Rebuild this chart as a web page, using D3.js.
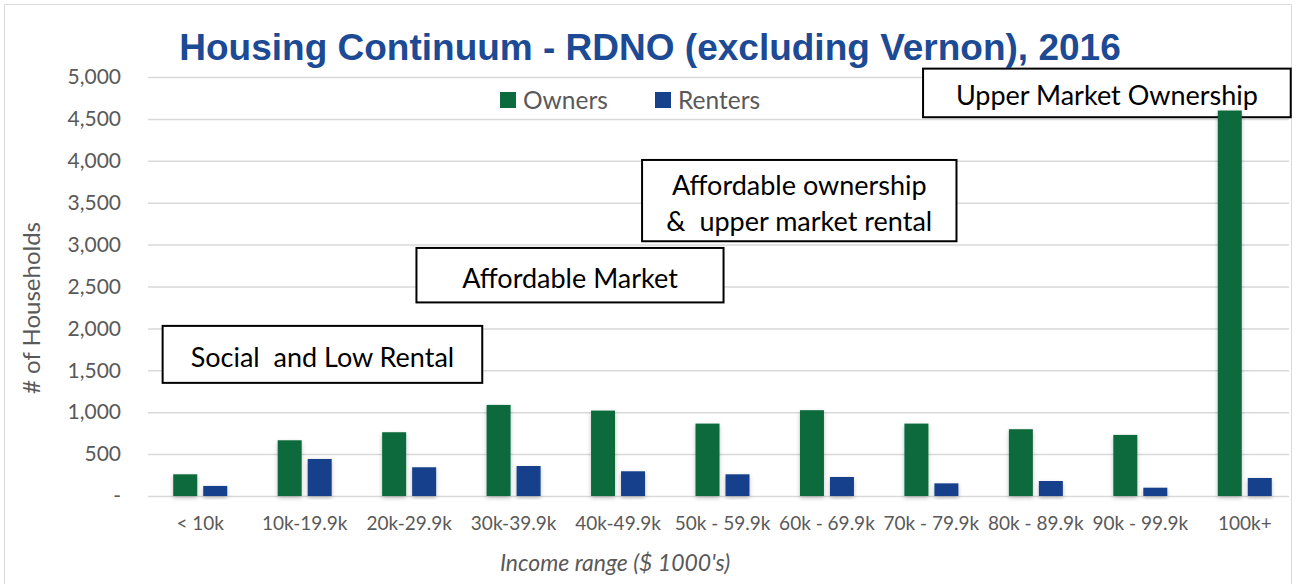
<!DOCTYPE html>
<html>
<head>
<meta charset="utf-8">
<script src="https://cdn.jsdelivr.net/npm/d3@7"></script>
<style>
	body { margin: 0; background: #fff; }
	svg { display: block; }
</style>
</head>
<body>
<script>
'use strict';

// Chart values
const categories = ["< 10k", "10k-19.9k", "20k-29.9k", "30k-39.9k", "40k-49.9k",
	"50k - 59.9k", "60k - 69.9k", "70k - 79.9k", "80k - 89.9k", "90k - 99.9k", "100k+"];
const owners = [259, 665, 761, 1087, 1019, 864, 1024, 864, 797, 729, 4600];
const renters = [120, 442, 343, 358, 295, 259, 227, 151, 179, 99, 215];
const seriesNames = ["Owners", "Renters"];
const yTicks = [0, 500, 1000, 1500, 2000, 2500, 3000, 3500, 4000, 4500, 5000];

// Text boxes laid over the plot: category index range, value range, lines
const notes = [
	{ from: -0.36, to: 2.70, top: 2030, bottom: 1350, lines: ["Social  and Low Rental"] },
	{ from: 2.07, to: 5.01, top: 2960, bottom: 2310, lines: ["Affordable Market"] },
	{ from: 4.23, to: 7.24, top: 4010, bottom: 3040, lines: ["Affordable ownership", "&  upper market rental"] },
	{ from: 6.92, to: 10.44, top: 5100, bottom: 4520, lines: ["Upper Market Ownership"] }
];

const params = {
	width: 1296,
	height: 584,
	left: 148,
	right: 1297,
	top: 77,
	bottom: 496
};

const colors = { Owners: "#0b6b3c", Renters: "#17418b" };
const font = "Lato, 'Open Sans', sans-serif";
const grey = "#595959";

const svg = d3.select("body").append("svg")
	.attr("width", params.width)
	.attr("height", params.height);

// outer chart border
svg.append("rect")
	.attr("x", 4.5).attr("y", 4.5)
	.attr("width", params.width - 9).attr("height", params.height - 2)
	.attr("fill", "#fff")
	.attr("stroke", "#d9d9d9");

const xScale = d3.scaleBand()
	.domain(categories)
	.range([params.left, params.right]);

// fractional category position -> pixel (for the note boxes)
const xPos = i => params.left + (i + 0.5) * xScale.bandwidth();

const yScale = d3.scaleLinear()
	.domain([0, 5000])
	.range([params.bottom, params.top]);

// gridlines + y labels
const yAxis = svg.append("g")
	.attr("transform", `translate(${params.left},0)`)
	.call(d3.axisLeft(yScale)
		.tickValues(yTicks)
		.tickSize(-(params.right - params.left - 8))
		.tickPadding(27)
		.tickFormat(d => d === 0 ? "-" : d3.format(",")(d)));
yAxis.select(".domain").remove();
yAxis.selectAll("line").attr("stroke", "#d9d9d9").attr("stroke-width", 1.5);
yAxis.selectAll("text")
	.attr("fill", grey)
	.style("font-family", font)
	.style("font-size", "21px");

// x labels
const xAxis = svg.append("g")
	.attr("transform", `translate(0,${params.bottom})`)
	.call(d3.axisBottom(xScale).tickSize(0).tickPadding(21));
xAxis.select(".domain").remove();
xAxis.selectAll("text")
	.attr("fill", grey)
	.style("font-family", font)
	.style("font-size", "19px");

// note boxes
const noteGroups = svg.append("g").selectAll("g")
	.data(notes)
	.join("g");
noteGroups.append("rect")
	.attr("x", d => xPos(d.from))
	.attr("y", d => yScale(d.top))
	.attr("width", d => xPos(d.to) - xPos(d.from))
	.attr("height", d => yScale(d.bottom) - yScale(d.top))
	.attr("fill", "#fff")
	.attr("stroke", "#000")
	.attr("stroke-width", 2);
noteGroups.each(function (d) {
	const g = d3.select(this);
	const cx = (xPos(d.from) + xPos(d.to)) / 2;
	const cy = (yScale(d.top) + yScale(d.bottom)) / 2 + 3;
	const lh = 36;
	d.lines.forEach((line, k) => {
		g.append("text")
			.attr("x", cx)
			.attr("y", cy + (k - (d.lines.length - 1) / 2) * lh)
			.attr("dy", "0.35em")
			.attr("text-anchor", "middle")
			.attr("fill", "#000")
			.style("font-family", font)
			.style("font-size", "27px")
			.style("white-space", "pre")
			.text(line);
	});
});

// bars
const defs = svg.append("defs");
defs.append("filter").attr("id", "shadow")
	.attr("x", "-30%").attr("y", "-10%").attr("width", "160%").attr("height", "120%")
	.append("feDropShadow")
	.attr("dx", 0).attr("dy", 2).attr("stdDeviation", 2)
	.attr("flood-color", "#000").attr("flood-opacity", 0.25);

const barWidth = 24;
const offsets = { Owners: -15, Renters: 15 };
const rows = categories.map((c, i) => ({ c, Owners: owners[i], Renters: renters[i] }));

seriesNames.forEach(name => {
	svg.append("g")
		.attr("filter", "url(#shadow)")
		.selectAll("rect")
		.data(rows)
		.join("rect")
		.attr("x", d => xScale(d.c) + xScale.bandwidth() / 2 + offsets[name] - barWidth / 2)
		.attr("y", d => yScale(d[name]))
		.attr("width", barWidth)
		.attr("height", d => yScale(0) - yScale(d[name]))
		.attr("fill", colors[name]);
});

// title
svg.append("text")
	.attr("x", 650).attr("y", 60)
	.attr("text-anchor", "middle")
	.attr("fill", "#1c4a94")
	.style("font-family", "'Liberation Sans', Arial, sans-serif")
	.style("font-weight", "bold")
	.style("font-size", "37px")
	.text("Housing Continuum - RDNO (excluding Vernon), 2016");

// legend
const legend = svg.append("g").attr("transform", "translate(500,100)");
const legendItems = legend.selectAll("g")
	.data(seriesNames)
	.join("g")
	.attr("transform", (d, i) => `translate(${i * 155},0)`);
legendItems.append("rect")
	.attr("x", 0).attr("y", -8)
	.attr("width", 16).attr("height", 16)
	.attr("fill", d => colors[d]);
legendItems.append("text")
	.attr("x", 23).attr("dy", "0.35em")
	.attr("fill", grey)
	.style("font-family", font)
	.style("font-size", "24.5px")
	.text(d => d);

// axis titles
svg.append("text")
	.attr("transform", "translate(32,308) rotate(-90)")
	.attr("text-anchor", "middle")
	.attr("dy", "0.35em")
	.attr("fill", grey)
	.style("font-family", font)
	.style("font-size", "24px")
	.text("# of Households");

svg.append("text")
	.attr("x", 615).attr("y", 563)
	.attr("text-anchor", "middle")
	.attr("dy", "0.35em")
	.attr("fill", grey)
	.style("font-family", font)
	.style("font-style", "italic")
	.style("font-size", "23px")
	.text("Income range ($ 1000's)");
</script>
</body>
</html>
